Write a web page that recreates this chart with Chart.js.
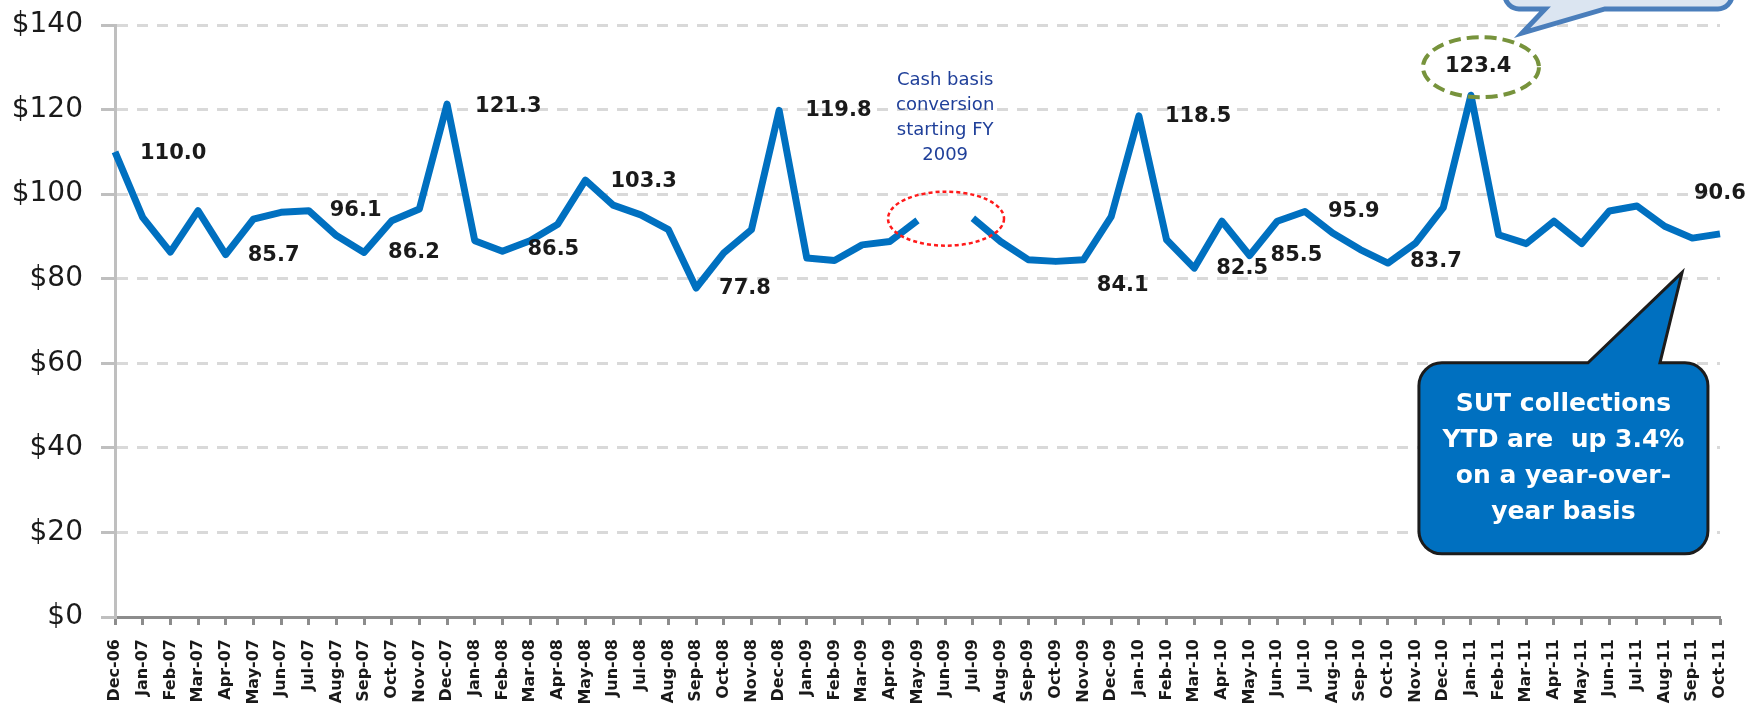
<!DOCTYPE html>
<html>
<head>
<meta charset="utf-8">
<script src="https://cdn.jsdelivr.net/npm/chart.js@4/dist/chart.umd.min.js"></script>
<style>
  html, body { margin: 0; padding: 0; background: #fff; }
  #chart { display: block; }
</style>
</head>
<body>
<canvas id="chart" width="1761" height="711"></canvas>
<script>
// Monthly SUT collections ($ millions), Dec-06 .. Oct-11 (Jun-09 missing: cash basis conversion)
const months = [
    'Dec-06',
    'Jan-07', 'Feb-07', 'Mar-07', 'Apr-07', 'May-07', 'Jun-07', 'Jul-07', 'Aug-07', 'Sep-07', 'Oct-07', 'Nov-07', 'Dec-07',
    'Jan-08', 'Feb-08', 'Mar-08', 'Apr-08', 'May-08', 'Jun-08', 'Jul-08', 'Aug-08', 'Sep-08', 'Oct-08', 'Nov-08', 'Dec-08',
    'Jan-09', 'Feb-09', 'Mar-09', 'Apr-09', 'May-09', 'Jun-09', 'Jul-09', 'Aug-09', 'Sep-09', 'Oct-09', 'Nov-09', 'Dec-09',
    'Jan-10', 'Feb-10', 'Mar-10', 'Apr-10', 'May-10', 'Jun-10', 'Jul-10', 'Aug-10', 'Sep-10', 'Oct-10', 'Nov-10', 'Dec-10',
    'Jan-11', 'Feb-11', 'Mar-11', 'Apr-11', 'May-11', 'Jun-11', 'Jul-11', 'Aug-11', 'Sep-11', 'Oct-11'
];

const collections = [
    110.0,
    94.5, 86.3, 96.1, 85.7, 94.1, 95.7, 96.1, 90.2, 86.2, 93.7, 96.5, 121.3,
    89.0, 86.5, 89.0, 92.9, 103.3, 97.4, 95.1, 91.6, 77.8, 86.1, 91.6, 119.8,
    84.9, 84.3, 88.0, 88.8, 93.8, null, 94.3, 88.8, 84.5, 84.1, 84.5, 94.7,
    118.5, 89.2, 82.5, 93.6, 85.5, 93.6, 95.9, 90.8, 86.9, 83.7, 88.4, 96.8,
    123.4, 90.4, 88.3, 93.6, 88.3, 96.0, 97.2, 92.4, 89.6, 90.6
];

const yTicks = [0, 20, 40, 60, 80, 100, 120, 140];

const noteLines = ['Cash basis', 'conversion', 'starting FY', '2009'];
const calloutLines = ['SUT collections', 'YTD are  up 3.4%', 'on a year-over-', 'year basis'];

// where each value label sits relative to its point (px)
const labelOffsets = {
    'Dec-06': [25, 2], 'Apr-07': [22, 1], 'Jul-07': [21, 0], 'Sep-07': [24, 0],
    'Dec-07': [28, 2], 'Feb-08': [25, -2], 'May-08': [25, 1], 'Sep-08': [23, 1],
    'Dec-08': [26, 0], 'Oct-09': [41, 24], 'Jan-10': [26, 1], 'Mar-10': [22, 0],
    'May-10': [21, 0], 'Jul-10': [23, 0], 'Oct-10': [22, -2], 'Jan-11': [-26, -29],
    'Oct-11': [-26, -40]
};

function calloutPath(ctx, x, y, w, h, r, side, b1, b2, tip) {
    ctx.beginPath();
    ctx.moveTo(x + r, y);
    if (side === 'top') {
        ctx.lineTo(b1, y);
        ctx.lineTo(tip.x, tip.y);
        ctx.lineTo(b2, y);
    }
    ctx.arcTo(x + w, y, x + w, y + h, r);
    ctx.arcTo(x + w, y + h, x, y + h, r);
    if (side === 'bottom') {
        ctx.lineTo(b2, y + h);
        ctx.lineTo(tip.x, tip.y);
        ctx.lineTo(b1, y + h);
    }
    ctx.arcTo(x, y + h, x, y, r);
    ctx.arcTo(x, y, x + w, y, r);
    ctx.closePath();
}

const valueLabels = {
    id: 'valueLabels',
    afterDatasetsDraw(chart) {
        const ctx = chart.ctx;
        const meta = chart.getDatasetMeta(0);
        ctx.save();
        ctx.font = 'bold 21px "DejaVu Sans"';
        ctx.fillStyle = '#1a1a1a';
        ctx.textAlign = 'left';
        ctx.textBaseline = 'middle';
        Object.entries(labelOffsets).forEach(([m, [dx, dy]]) => {
            const i = months.indexOf(m);
            const pt = meta.data[i];
            ctx.fillText(collections[i].toFixed(1), pt.x + dx, pt.y + dy);
        });
        ctx.restore();
    }
};

const notes = {
    id: 'notes',
    afterDraw(chart) {
        const ctx = chart.ctx;
        const xs = chart.scales.x, ys = chart.scales.y;
        const px = v => xs.getPixelForValue(v);
        const py = v => ys.getPixelForValue(v);
        ctx.save();

        // red dashed ellipse over the gap
        ctx.beginPath();
        ctx.ellipse(px(30.03), py(94.2), 58, 27, 0, 0, Math.PI * 2);
        ctx.strokeStyle = '#ff1a1a';
        ctx.lineWidth = 2.5;
        ctx.setLineDash([4, 3]);
        ctx.stroke();

        // note text
        ctx.setLineDash([]);
        ctx.font = '18px "DejaVu Sans"';
        ctx.fillStyle = '#1f3f99';
        ctx.textAlign = 'center';
        ctx.textBaseline = 'middle';
        noteLines.forEach((t, k) => ctx.fillText(t, px(30), py(127) + k * 25));

        // green dashed ellipse round the Jan-11 peak label
        const pk = chart.getDatasetMeta(0).data[months.indexOf('Jan-11')];
        ctx.beginPath();
        ctx.ellipse(pk.x + 10, pk.y - 28, 58, 30, 0, 0, Math.PI * 2);
        ctx.strokeStyle = '#77933c';
        ctx.lineWidth = 4;
        ctx.setLineDash([12, 6]);
        ctx.stroke();
        ctx.setLineDash([]);

        // light blue callout cut off at the top
        calloutPath(ctx, px(50.23), py(143.8) - 70, 227, 70, 14, 'bottom',
            px(51.68), px(53.84), { x: px(50.85), y: py(138.1) });
        ctx.fillStyle = '#dbe5f1';
        ctx.fill();
        ctx.strokeStyle = '#4a7ebb';
        ctx.lineWidth = 5;
        ctx.stroke();

        // SUT callout
        const bx = px(47.12), by = py(60.1);
        calloutPath(ctx, bx, by, 289, 191, 23, 'top',
            px(53.23), px(55.83), { x: px(56.63), y: py(81.5) });
        ctx.fillStyle = '#0070c0';
        ctx.fill();
        ctx.strokeStyle = '#1c1c1c';
        ctx.lineWidth = 3;
        ctx.stroke();

        ctx.font = 'bold 25px "DejaVu Sans"';
        ctx.fillStyle = '#ffffff';
        ctx.textAlign = 'center';
        ctx.textBaseline = 'middle';
        calloutLines.forEach((t, k) => ctx.fillText(t, bx + 144.5, by + 41.5 + k * 36));

        ctx.restore();
    }
};

new Chart(document.getElementById('chart'), {
    type: 'line',
    data: {
        labels: months,
        datasets: [{
            data: collections,
            borderColor: '#0070c0',
            borderWidth: 7,
            borderJoinStyle: 'round',
            pointRadius: 0,
            tension: 0,
            spanGaps: false,
            clip: false
        }]
    },
    options: {
        responsive: false,
        animation: false,
        devicePixelRatio: 1,
        layout: { padding: { top: 25, right: 41, left: 0, bottom: 0 } },
        plugins: {
            legend: { display: false },
            tooltip: { enabled: false }
        },
        scales: {
            x: {
                offset: false,
                grid: {
                    drawOnChartArea: false,
                    drawTicks: true,
                    tickLength: 8,
                    tickColor: '#8c8c8c',
                    tickWidth: 3
                },
                border: { color: '#8c8c8c', width: 3 },
                ticks: {
                    autoSkip: false,
                    minRotation: 90,
                    maxRotation: 90,
                    padding: 14,
                    color: '#1a1a1a',
                    font: { family: 'DejaVu Sans', size: 16, weight: 'bold' }
                },
                afterFit: s => { s.height = 94; s.paddingLeft = 0; s.paddingRight = 0; }
            },
            y: {
                min: 0,
                max: 140,
                afterBuildTicks: s => { s.ticks = yTicks.map(v => ({ value: v })); },
                grid: {
                    color: c => (c.tick && c.tick.value === 0) ? 'rgba(0,0,0,0)' : '#d9d9d9',
                    lineWidth: 3,
                    tickLength: 14,
                    tickColor: '#bfbfbf',
                    tickWidth: 3
                },
                border: { color: '#bfbfbf', width: 3, dash: [11, 9] },
                ticks: {
                    padding: 18,
                    color: '#1a1a1a',
                    font: { family: 'DejaVu Sans', size: 28 },
                    callback: v => '$' + v
                },
                afterFit: s => { s.width = 115; s.paddingTop = 0; s.paddingBottom = 0; }
            }
        }
    },
    plugins: [valueLabels, notes]
});
</script>
</body>
</html>
